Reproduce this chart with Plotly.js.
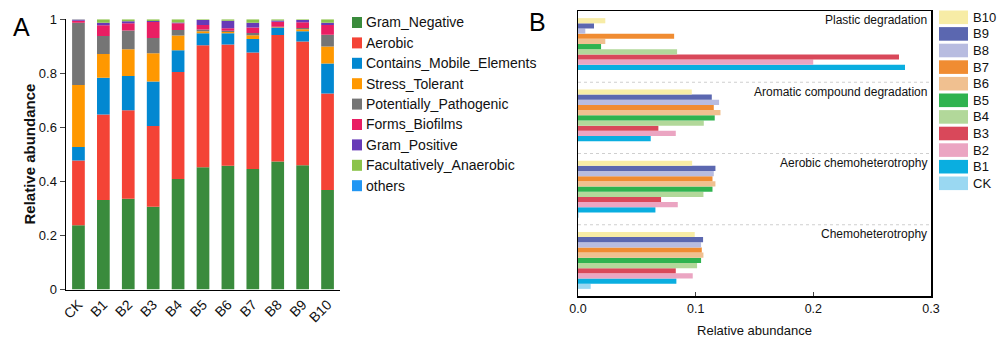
<!DOCTYPE html>
<html><head><meta charset="utf-8">
<script src="https://cdn.plot.ly/plotly-3.0.1.min.js"></script>
<style>html,body{margin:0;padding:0;background:#fff}#chart{width:997px;height:338px}</style>
</head><body><div id="chart"></div>
<script>
// ---------- Panel A data ----------
const samples = ['CK','B1','B2','B3','B4','B5','B6','B7','B8','B9','B10'];
const traitNames = ['Gram_Negative','Aerobic','Contains_Mobile_Elements','Stress_Tolerant','Potentially_Pathogenic','Forms_Biofilms','Gram_Positive','Facultatively_Anaerobic','others'];
const traitColors = ['#3a8b3c','#f44336','#0288d1','#ff9800','#757575','#e91e63','#673ab7','#8bc34a','#2196f3'];
const gramNegative = [0.238,0.331,0.336,0.306,0.409,0.452,0.458,0.446,0.474,0.460,0.368];
const aerobic      = [0.239,0.317,0.327,0.299,0.396,0.452,0.449,0.431,0.468,0.458,0.357];
const mobileElems  = [0.050,0.136,0.127,0.165,0.080,0.044,0.041,0.050,0.026,0.038,0.111];
const stressTol    = [0.230,0.088,0.099,0.104,0.055,0.008,0.005,0.014,0.002,0.007,0.063];
const pathogenic   = [0.230,0.066,0.070,0.057,0.020,0.006,0.005,0.008,0.002,0.005,0.044];
const biofilms     = [0.008,0.040,0.026,0.059,0.025,0.017,0.009,0.021,0.019,0.021,0.036];
const gramPositive = [0.004,0.009,0.008,0.004,0.003,0.018,0.028,0.017,0.005,0.008,0.008];
const facultative  = [0.001,0.013,0.007,0.006,0.012,0.003,0.005,0.013,0.004,0.003,0.013];
const others       = [0,0,0,0,0,0,0,0,0,0,0];
const yTicksA = [0,0.2,0.4,0.6,0.8,1];
const yTickTextA = ['0','0.2','0.4','0.6','0.8','1'];

// ---------- Panel B data ----------
const functions = ['Chemoheterotrophy','Aerobic chemoheterotrophy','Aromatic compound degradation','Plastic degradation'];
const groupNames = ['CK','B1','B2','B3','B4','B5','B6','B7','B8','B9','B10'];
const groupColors = ['#9ad8f2','#0aaee0','#eba5c2','#d9485a','#b2d89a','#2fb34f','#f0c090','#f08c32','#b8bce0','#5b67b0','#f7eca6'];
const funcCK  = [0.0108,0.0006,0,0];
const funcB1  = [0.0836,0.0658,0.0618,0.2779];
const funcB2  = [0.0975,0.0848,0.0831,0.1999];
const funcB3  = [0.0831,0.0706,0.0683,0.2728];
const funcB4  = [0.1012,0.1066,0.1069,0.0842];
const funcB5  = [0.1046,0.1143,0.1162,0.0196];
const funcB6  = [0.1066,0.1168,0.1211,0.0232];
const funcB7  = [0.1052,0.1143,0.1154,0.0817];
const funcB8  = [0.1046,0.1154,0.1199,0.0062];
const funcB9  = [0.1063,0.1168,0.1137,0.0136];
const funcB10 = [0.0992,0.0970,0.0967,0.0232];
const xTicksB = [0,0.1,0.2,0.3];

const traitSeries = [gramNegative,aerobic,mobileElems,stressTol,pathogenic,biofilms,gramPositive,facultative,others];
const funcSeries = [funcCK,funcB1,funcB2,funcB3,funcB4,funcB5,funcB6,funcB7,funcB8,funcB9,funcB10];

const W = 997, H = 338;
const px = v => v / W, py = v => 1 - v / H;
const FONT = 'Liberation Sans, Arial, sans-serif';

const traces = [];
// stacked bars (manual base so panel B can be grouped)
const cum = samples.map(() => 0);
traitSeries.forEach((vals, i) => {
  traces.push({
    type: 'bar', x: samples, y: vals, base: cum.slice(),
    xaxis: 'x', yaxis: 'y', offsetgroup: 'A', width: 0.51,
    marker: {color: traitColors[i], line: {width: 0}},
    name: traitNames[i], showlegend: false, hoverinfo: 'name+y'
  });
  vals.forEach((v, j) => cum[j] += v);
});
funcSeries.forEach((vals, i) => {
  traces.push({
    type: 'bar', orientation: 'h', y: functions, x: vals,
    xaxis: 'x2', yaxis: 'y2', offsetgroup: 'g' + i,
    marker: {color: groupColors[i], line: {width: 0}},
    name: groupNames[i], showlegend: false
  });
});

const shapes = [];
const annotations = [];
// legend A
traitNames.forEach((n, i) => {
  const cy = 22.5 + i * 20.4;
  shapes.push({type: 'rect', xref: 'paper', yref: 'paper', x0: px(352), x1: px(362), y0: py(cy - 5.5), y1: py(cy + 5.5), fillcolor: traitColors[i], line: {width: 0}});
  annotations.push({xref: 'paper', yref: 'paper', x: px(364), y: py(cy), xanchor: 'left', yanchor: 'middle', showarrow: false, text: n, font: {size: 14, color: '#111', family: FONT}});
});
// legend B (top = B10)
for (let k = 0; k < groupNames.length; k++) {
  const i = groupNames.length - 1 - k;
  const cy = 17.3 + k * 16.6;
  shapes.push({type: 'rect', xref: 'paper', yref: 'paper', x0: px(939), x1: px(968), y0: py(cy - 6.8), y1: py(cy + 6.8), fillcolor: groupColors[i], line: {width: 0}});
  annotations.push({xref: 'paper', yref: 'paper', x: px(971), y: py(cy), xanchor: 'left', yanchor: 'middle', showarrow: false, text: groupNames[i], font: {size: 13, color: '#111', family: FONT}});
}
// dotted separators between function groups
[0.5, 1.5, 2.5].forEach(v => shapes.push({type: 'line', xref: 'x2 domain', yref: 'y2', x0: 0, x1: 1, y0: v, y1: v, line: {color: '#cfcfcf', width: 1, dash: 'dot'}}));
// function labels
functions.forEach((f, i) => annotations.push({xref: 'x2 domain', yref: 'y2', x: 0.995, y: i + 0.37, xanchor: 'right', yanchor: 'middle', showarrow: false, text: f, font: {size: 12, color: '#111', family: FONT}}));
// panel letters
annotations.push({xref: 'paper', yref: 'paper', x: px(11), y: py(27), xanchor: 'left', yanchor: 'middle', showarrow: false, text: 'A', font: {size: 25, color: '#000', family: FONT}});
annotations.push({xref: 'paper', yref: 'paper', x: px(527), y: py(22), xanchor: 'left', yanchor: 'middle', showarrow: false, text: 'B', font: {size: 25, color: '#000', family: FONT}});
// panel A y title
annotations.push({xref: 'paper', yref: 'paper', x: px(29), y: py(154.5), xanchor: 'center', yanchor: 'middle', showarrow: false, textangle: -90, text: '<b>Relative abundance</b>', font: {size: 15, color: '#111', family: FONT}});

const layout = {
  width: W, height: H, margin: {l: 0, r: 0, t: 0, b: 0},
  paper_bgcolor: '#fff', plot_bgcolor: 'rgba(0,0,0,0)',
  font: {family: FONT, color: '#111', size: 14},
  barmode: 'group', bargap: 0.2, bargroupgap: 0,
  showlegend: false,
  xaxis: {domain: [px(66), px(340)], range: [-0.5, 10.5], type: 'category', categoryarray: samples,
          showline: true, linecolor: '#000', linewidth: 1.5, ticks: '', tickangle: -45,
          tickfont: {size: 14}, showgrid: false, zeroline: false, fixedrange: true},
  yaxis: {domain: [1 - 289.5 / H, 1 - 19.3 / H], range: [0, 1], tickvals: yTicksA, ticktext: yTickTextA,
          showline: true, linecolor: '#000', linewidth: 1.5, ticks: 'outside', ticklen: 5, tickwidth: 1.5,
          tickfont: {size: 13}, showgrid: false, zeroline: false},
  xaxis2: {domain: [px(578), px(931)], range: [0, 0.3], anchor: 'y2', tickvals: xTicksB, tickformat: '.1f',
           showline: true, mirror: true, linecolor: '#000', linewidth: 1.5, ticks: 'inside', ticklen: 4, tickwidth: 1,
           tickfont: {size: 12.5}, showgrid: false, zeroline: false,
           title: {text: 'Relative abundance', font: {size: 13}, standoff: 12}},
  yaxis2: {domain: [1 - 296 / H, 1 - 11 / H], anchor: 'x2', type: 'category', categoryarray: functions, range: [-0.5, 3.5],
           showline: true, mirror: true, linecolor: '#000', linewidth: 1.5, ticks: '', showticklabels: false,
           showgrid: false, zeroline: false},
  shapes: shapes, annotations: annotations
};
Plotly.newPlot('chart', traces, layout, {displayModeBar: false, staticPlot: true});
</script></body></html>
